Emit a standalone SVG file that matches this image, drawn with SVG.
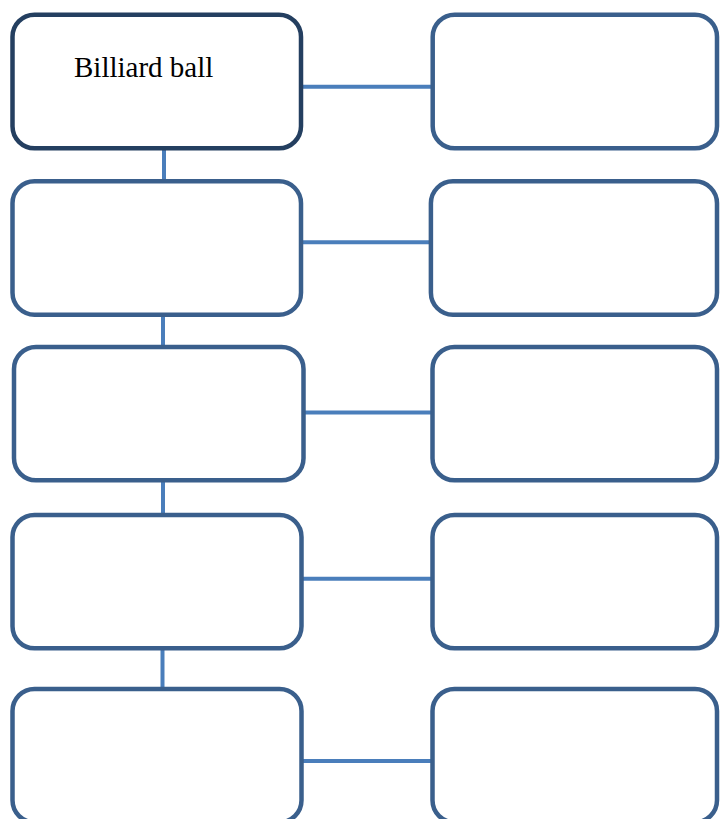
<svg xmlns="http://www.w3.org/2000/svg" width="720" height="819" viewBox="0 0 720 819">
<style>
.box{fill:#ffffff;stroke:#3A5F8C;stroke-width:4.5}
.dark{stroke:#243F60}
.conn{stroke:#4A7EBB;stroke-width:4;fill:none}
.lbl{font-family:"Liberation Serif","Times New Roman",serif;font-size:29px;fill:#000}
</style>
<rect x="0" y="0" width="720" height="819" fill="#ffffff"/>
<g id="connectors">
<line class="conn" x1="164" y1="150" x2="164" y2="180"/>
<line class="conn" x1="163" y1="316" x2="163" y2="346"/>
<line class="conn" x1="163" y1="482" x2="163" y2="514"/>
<line class="conn" x1="162.5" y1="650" x2="162.5" y2="688"/>
<line class="conn" x1="303" y1="86.7" x2="431" y2="86.7"/>
<line class="conn" x1="303" y1="242.3" x2="429" y2="242.3"/>
<line class="conn" x1="305" y1="412.5" x2="431" y2="412.5"/>
<line class="conn" x1="303" y1="578.7" x2="431" y2="578.7"/>
<line class="conn" x1="303" y1="761" x2="431" y2="761"/>
</g>
<g id="n1"><rect class="box dark" x="12.5" y="14.7" width="288.5" height="133.6" rx="22" ry="22"/>
<text class="lbl" x="74" y="77">Billiard ball</text></g>
<g id="n1r"><rect class="box" x="432.7" y="14.7" width="284.3" height="133.6" rx="22" ry="22"/></g>
<g id="n2"><rect class="box" x="12.5" y="181.3" width="288.5" height="133.4" rx="22" ry="22"/></g>
<g id="n2r"><rect class="box" x="430.9" y="181.3" width="286.1" height="133.4" rx="22" ry="22"/></g>
<g id="n3"><rect class="box" x="14" y="347" width="289.5" height="133.3" rx="22" ry="22"/></g>
<g id="n3r"><rect class="box" x="432.5" y="347" width="284.5" height="133.3" rx="22" ry="22"/></g>
<g id="n4"><rect class="box" x="12.5" y="515" width="289" height="133.3" rx="22" ry="22"/></g>
<g id="n4r"><rect class="box" x="432.5" y="515" width="284.5" height="133.3" rx="22" ry="22"/></g>
<g id="n5"><rect class="box" x="12.5" y="689" width="289" height="133.3" rx="22" ry="22"/></g>
<g id="n5r"><rect class="box" x="432.5" y="689" width="284.5" height="133.3" rx="22" ry="22"/></g>
</svg>
